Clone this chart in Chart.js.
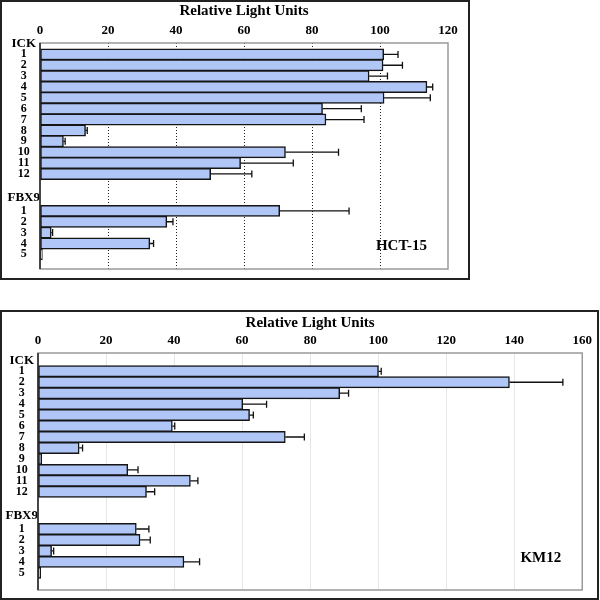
<!DOCTYPE html>
<html>
<head>
<meta charset="utf-8">
<title>Relative Light Units</title>
<script src="https://cdn.jsdelivr.net/npm/chart.js@4.4.0/dist/chart.umd.min.js"></script>
<style>
  body { margin: 0; background: #fff; }
  .panel { position: absolute; left: 0; border: 2px solid #222; background: #fff; }
  #topPanel { top: 0; width: 466px; height: 276px; }
  #bottomPanel { top: 310px; width: 595px; height: 286px; }
  canvas { display: block; }
</style>
</head>
<body>
<div class="panel" id="topPanel"><canvas id="hctChart"></canvas></div>
<div class="panel" id="bottomPanel"><canvas id="kmChart"></canvas></div>
<script>
// row labels
const ickLabels = ['1', '2', '3', '4', '5', '6', '7', '8', '9', '10', '11', '12'];
const fbxLabels = ['1', '2', '3', '4', '5'];
const groupNames = ['ICK', 'FBX9'];

// HCT-15
const hctIck    = [101.1, 100.9, 96.8, 113.8, 101.2, 83.1, 84.1, 13.4, 6.9, 72.2, 59.0, 50.2];
const hctIckErr = [4.2, 5.7, 5.4, 1.7, 13.6, 11.4, 11.2, 0.5, 0.5, 15.6, 15.5, 12.1];
const hctFbx    = [70.5, 37.3, 3.3, 32.3, 0.7];
const hctFbxErr = [20.4, 1.8, 0.4, 1.1, 0];

// KM12
const kmIck    = [100.1, 138.6, 88.7, 60.2, 62.2, 39.5, 72.7, 12.1, 1.1, 26.4, 44.8, 31.9];
const kmIckErr = [0.8, 15.7, 2.6, 7.0, 1.1, 0.7, 5.6, 1.0, 0, 3.0, 2.2, 2.4];
const kmFbx    = [28.9, 30.0, 4.0, 42.9, 0.8];
const kmFbxErr = [3.7, 3.0, 0.6, 4.6, 0];

const SERIF = '"Liberation Serif", "Times New Roman", serif';
const BAR_FILL = '#afc6f6';

// row layout: second group starts a bit further down, headers sit above each group
const FBX_START = 14.4;
const HEAD_OFFSET = [-1, 13.2];

function rowTicks() {
    const t = [{ pos: HEAD_OFFSET[0], label: groupNames[0], head: true }];
    ickLabels.forEach((l, i) => t.push({ pos: i, label: l }));
    t.push({ pos: HEAD_OFFSET[1], label: groupNames[1], head: true });
    fbxLabels.forEach((l, i) => t.push({ pos: FBX_START + i, label: l }));
    return t;
}

// plot frame: grey box, dark left axis
const framePlugin = {
    id: 'frame',
    beforeDatasetsDraw(chart) {
        const { ctx, chartArea: a } = chart;
        ctx.save();
        ctx.strokeStyle = '#9a9a9a';
        ctx.lineWidth = 1.5;
        ctx.strokeRect(a.left, a.top, a.right - a.left, a.bottom - a.top);
        ctx.restore();
    },
    afterDatasetsDraw(chart) {
        const { ctx, chartArea: a } = chart;
        ctx.save();
        ctx.strokeStyle = '#222';
        ctx.lineWidth = 1.5;
        ctx.beginPath();
        ctx.moveTo(a.left, a.top);
        ctx.lineTo(a.left, a.bottom);
        ctx.stroke();
        ctx.restore();
    }
};

// positive error whiskers
const errorBarPlugin = {
    id: 'errorBars',
    afterDatasetsDraw(chart) {
        const { ctx, scales: { x } } = chart;
        const ds = chart.data.datasets[0];
        const meta = chart.getDatasetMeta(0);
        ctx.save();
        ctx.strokeStyle = '#111';
        ctx.lineWidth = 1.3;
        meta.data.forEach((bar, i) => {
            const e = ds.errors[i];
            if (!e) return;
            const x0 = x.getPixelForValue(ds.data[i].x);
            const x1 = x.getPixelForValue(ds.data[i].x + e);
            ctx.beginPath();
            ctx.moveTo(x0, bar.y);
            ctx.lineTo(x1, bar.y);
            ctx.moveTo(x1, bar.y - 3.5);
            ctx.lineTo(x1, bar.y + 3.5);
            ctx.stroke();
        });
        ctx.restore();
    }
};

// cell line name in the lower right
const panelLabelPlugin = {
    id: 'panelLabel',
    afterDraw(chart, args, opts) {
        const { ctx, chartArea: a } = chart;
        ctx.save();
        ctx.font = 'bold 15px ' + SERIF;
        ctx.fillStyle = '#000';
        ctx.textAlign = 'right';
        ctx.textBaseline = 'middle';
        ctx.fillText(opts.text, a.right - 21, a.bottom - opts.dy);
        ctx.restore();
    }
};

function makePanel(id, p) {
    const ticks = rowTicks();
    const values = p.ick.concat(p.fbx);
    const errors = p.ickErr.concat(p.fbxErr);
    const rows = ickLabels.map((l, i) => i).concat(fbxLabels.map((l, i) => FBX_START + i));

    return new Chart(document.getElementById(id), {
        type: 'bar',
        data: {
            datasets: [{
                data: values.map((v, i) => ({ x: v, y: rows[i] })),
                errors: errors,
                backgroundColor: BAR_FILL,
                borderColor: '#151515',
                borderWidth: 1.5,
                borderSkipped: false,
                barThickness: 11.3
            }]
        },
        options: {
            indexAxis: 'y',
            responsive: true,
            maintainAspectRatio: false,
            animation: false,
            layout: { padding: { left: 0, top: 0, right: p.padRight, bottom: p.padBottom } },
            plugins: {
                legend: { display: false },
                tooltip: { enabled: false },
                panelLabel: { text: p.name, dy: p.labelDy }
            },
            scales: {
                x: {
                    position: 'top',
                    min: 0,
                    max: p.xMax,
                    ticks: {
                        stepSize: 20,
                        color: '#000',
                        padding: 5,
                        font: { family: SERIF, size: 13, weight: 'bold' }
                    },
                    grid: {
                        drawTicks: false,
                        lineWidth: 1,
                        color: c => (c.tick && (c.tick.value === 0 || c.tick.value === p.xMax)) ? 'rgba(0,0,0,0)' : p.gridColor
                    },
                    border: { display: false, dash: p.gridDash },
                    title: {
                        display: true,
                        text: 'Relative Light Units',
                        color: '#000',
                        font: { family: SERIF, size: 15, weight: 'bold' },
                        padding: { top: p.titleTop, bottom: 0 }
                    },
                    afterFit: s => { s.height = 41; }
                },
                y: {
                    type: 'linear',
                    reverse: true,
                    bounds: 'data',
                    min: p.yMin,
                    max: p.yMax,
                    grid: { display: false, drawTicks: false },
                    border: { display: false },
                    afterBuildTicks: s => { s.ticks = ticks.map(t => ({ value: t.pos })); },
                    ticks: {
                        autoSkip: false,
                        crossAlign: 'center',
                        padding: 0,
                        color: '#000',
                        callback: (v, i) => ticks[i].label,
                        font: c => (ticks[c.index] && ticks[c.index].head)
                            ? { family: SERIF, size: 13, weight: 'bold' }
                            : { family: SERIF, size: 12, weight: 'bold' }
                    },
                    afterFit: s => { s.width = p.yWidth; }
                }
            }
        },
        plugins: [framePlugin, errorBarPlugin, panelLabelPlugin]
    });
}

document.addEventListener('DOMContentLoaded', function() {
    makePanel('hctChart', {
        name: 'HCT-15', ick: hctIck, ickErr: hctIckErr, fbx: hctFbx, fbxErr: hctFbxErr,
        xMax: 120, yMin: -0.5, yMax: 19.2, yWidth: 38, padRight: 20, padBottom: 9,
        gridColor: '#222', gridDash: [1, 2], titleTop: 0, labelDy: 23
    });
    makePanel('kmChart', {
        name: 'KM12', ick: kmIck, ickErr: kmIckErr, fbx: kmFbx, fbxErr: kmFbxErr,
        xMax: 160, yMin: -1.1, yMax: 19.4, yWidth: 36, padRight: 13, padBottom: 8,
        gridColor: '#e6e6e6', gridDash: [], titleTop: 2, labelDy: 32
    });
});
</script>
</body>
</html>
